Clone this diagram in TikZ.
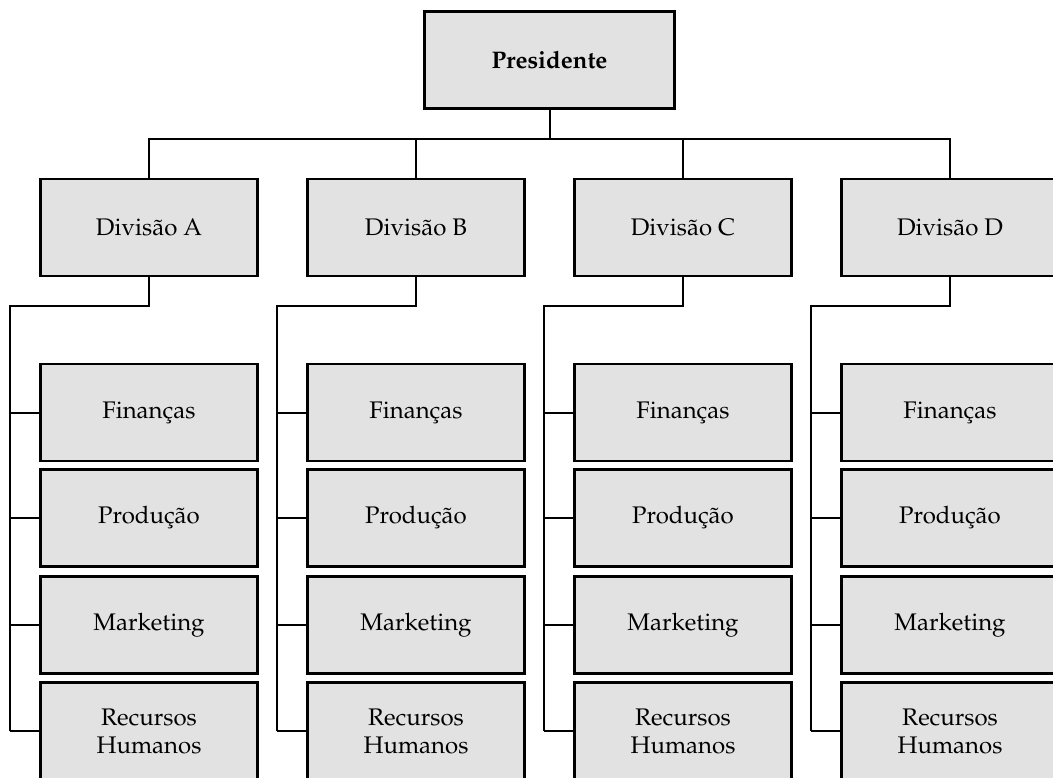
\documentclass[tikz,border=0pt]{standalone}
\usepackage[T1]{fontenc}
\usepackage{mathpazo}
\definecolor{boxgray}{RGB}{226,226,226}
\begin{document}
\begin{tikzpicture}[x=0.5pt,y=-0.5pt,
  box/.style={draw, line width=1.1pt, fill=boxgray, minimum width=108.5pt,
    minimum height=48.5pt, inner sep=0pt, align=center,
    font=\fontsize{12}{14}\selectfont},
  link/.style={line width=1pt}]
  \clip (0,0) rectangle (1053,777);

  \node [box, minimum width=125pt, font=\fontsize{12}{14}\selectfont\bfseries] (pres) at (549.5,60) {Presidente};

  \foreach \d/\x in {A/149, B/416, C/683, D/950} {
    \node [box] (div\d) at (\x,227.5) {Divis\~ao \d};
    \draw [link] (div\d.north) -- (\x,139) -| (pres.south);

    \coordinate (bend\d) at (\x-139,306);
    \foreach \i/\name/\y in {1/Finan\c{c}as/412.5, 2/Produ\c{c}\~ao/518, 3/Marketing/625, 4/Recursos\\Humanos/731} {
      \node [box] (sub\d\i) at (\x,\y) {\name};
      \draw [link] (sub\d\i.west) -- (sub\d\i.west -| bend\d);
    }
    \draw [link] (div\d.south) |- (bend\d) -- (bend\d |- sub\d4.west);
  }

\end{tikzpicture}
\end{document}
